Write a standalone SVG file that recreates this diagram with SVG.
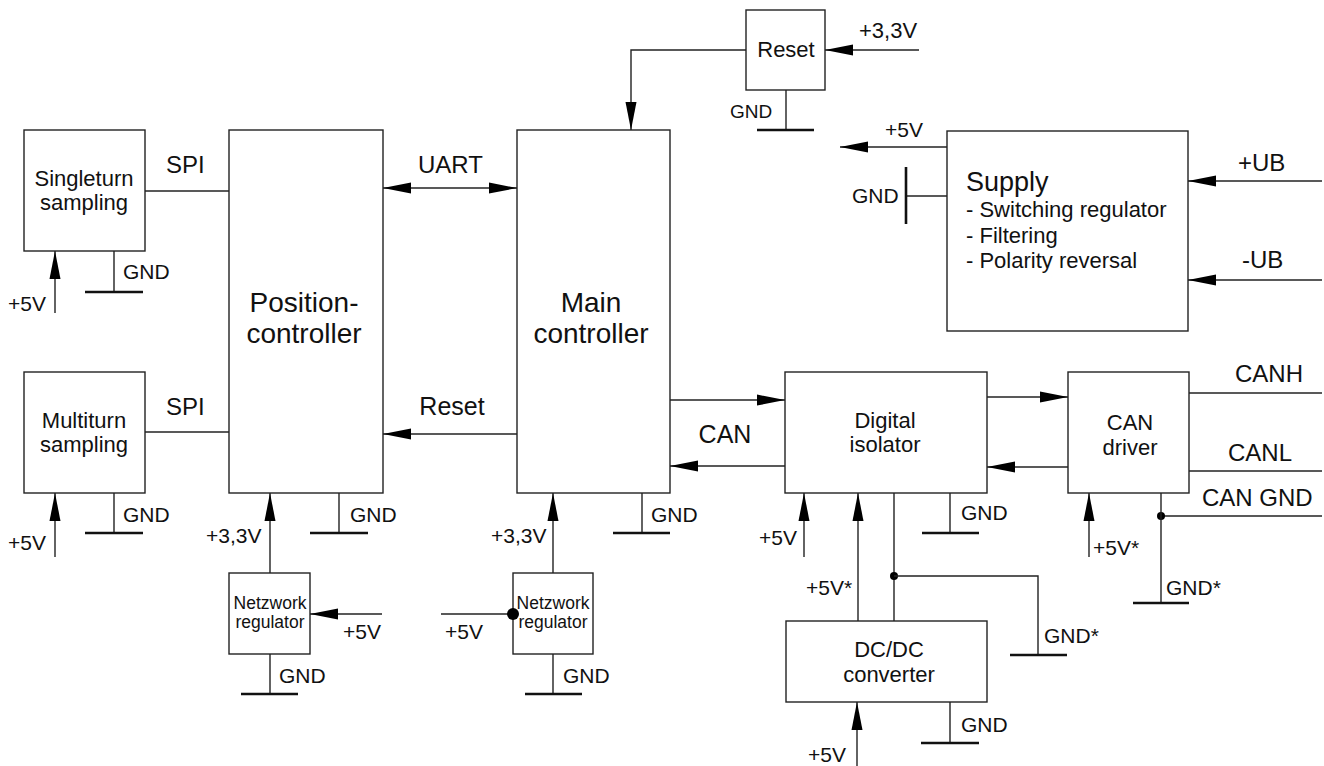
<svg xmlns="http://www.w3.org/2000/svg" width="1324" height="766" viewBox="0 0 1324 766">
<style>
.box{fill:#fff;stroke:#222;stroke-width:1.4}
.ln{fill:none;stroke:#222;stroke-width:1.4}
.gnd{fill:none;stroke:#111;stroke-width:2.6}
.ar{marker-end:url(#a)}
text{font-family:"Liberation Sans",Arial,sans-serif;fill:#111}
.c{text-anchor:middle}
.t21{font-size:21px}
.t22{font-size:22px}
.t24{font-size:24px}
.t28{font-size:28px}
</style>
<defs>
<marker id="a" markerWidth="28" markerHeight="12" refX="28" refY="6" orient="auto-start-reverse" markerUnits="userSpaceOnUse">
<path d="M0,0.5 L28,6 L0,11.5 Z" fill="#000"/>
</marker>
</defs>

<g id="singleturn">
<rect class="box" x="24" y="130" width="121" height="121"/>
<text class="c t22" x="84" y="186">Singleturn</text>
<text class="c t22" x="84" y="210">sampling</text>
</g>
<g id="multiturn">
<rect class="box" x="24" y="372" width="121" height="121"/>
<text class="c t22" x="84" y="428">Multiturn</text>
<text class="c t22" x="84" y="452">sampling</text>
</g>
<g id="position-controller">
<rect class="box" x="229" y="130" width="154" height="363"/>
<text class="c t28" x="304" y="312">Position-</text>
<text class="c t28" x="304" y="343">controller</text>
</g>
<g id="main-controller">
<rect class="box" x="517" y="130" width="153" height="363"/>
<text class="c t28" x="591" y="312">Main</text>
<text class="c t28" x="591" y="343">controller</text>
</g>
<g id="reset">
<rect class="box" x="746" y="10" width="79" height="80"/>
<text class="c t22" x="786" y="57">Reset</text>
</g>
<g id="supply">
<rect class="box" x="947" y="131" width="241" height="200"/>
<text style="font-size:27px" x="966" y="191">Supply</text>
<text class="t22" x="966" y="217">- Switching regulator</text>
<text class="t22" x="966" y="243">- Filtering</text>
<text class="t22" x="966" y="268">- Polarity reversal</text>
</g>
<g id="digital-isolator">
<rect class="box" x="785" y="372" width="202" height="121"/>
<text class="c t22" x="885" y="428">Digital</text>
<text class="c t22" x="885" y="452">isolator</text>
</g>
<g id="can-driver">
<rect class="box" x="1068" y="372" width="121" height="121"/>
<text class="c t22" x="1130" y="430">CAN</text>
<text class="c t22" x="1130" y="455">driver</text>
</g>
<g id="dcdc">
<rect class="box" x="786" y="621" width="201" height="81"/>
<text class="c t22" x="889" y="657">DC/DC</text>
<text class="c t22" x="889" y="682">converter</text>
</g>
<g id="regulator-1">
<rect class="box" x="229" y="573" width="81" height="81"/>
<text class="c" style="font-size:17.5px" x="270" y="609">Netzwork</text>
<text class="c" style="font-size:17.5px" x="270" y="628">regulator</text>
</g>
<g id="regulator-2">
<rect class="box" x="513" y="573" width="80" height="81"/>
<text class="c" style="font-size:17.5px" x="553" y="609">Netzwork</text>
<text class="c" style="font-size:17.5px" x="553" y="628">regulator</text>
</g>

<g id="connectors">
<!-- SPI -->
<line class="ln" x1="145" y1="191" x2="229" y2="191"/>
<text class="t24" x="166" y="173">SPI</text>
<line class="ln" x1="145" y1="432" x2="229" y2="432"/>
<text class="t24" x="166" y="415">SPI</text>
<!-- Singleturn supply -->
<line class="ln ar" x1="55" y1="313" x2="55" y2="251"/>
<text class="t21" x="8" y="311">+5V</text>
<line class="ln" x1="114" y1="251" x2="114" y2="292"/>
<line class="gnd" x1="85" y1="292" x2="143" y2="292"/>
<text class="t21" x="123" y="279">GND</text>
<!-- Multiturn supply -->
<line class="ln ar" x1="55" y1="557" x2="55" y2="493"/>
<text class="t21" x="8" y="550">+5V</text>
<line class="ln" x1="114" y1="493" x2="114" y2="533"/>
<line class="gnd" x1="85" y1="533" x2="143" y2="533"/>
<text class="t21" x="123" y="522">GND</text>
<!-- UART -->
<line class="ln ar" x1="383" y1="188" x2="517" y2="188" style="marker-start:url(#a)"/>
<text class="t24" x="418" y="173">UART</text>
<!-- Reset between controllers -->
<line class="ln ar" x1="517" y1="434" x2="383" y2="434"/>
<text class="c" style="font-size:25px" x="452" y="415">Reset</text>
<!-- Position controller power -->
<line class="ln ar" x1="270" y1="573" x2="270" y2="493"/>
<text class="t21" x="206" y="543">+3,3V</text>
<line class="ln" x1="339" y1="493" x2="339" y2="533"/>
<line class="gnd" x1="310" y1="533" x2="368" y2="533"/>
<text class="t21" x="350" y="522">GND</text>
<!-- Regulator 1 -->
<line class="ln ar" x1="382" y1="614" x2="310" y2="614"/>
<text class="t21" x="343" y="639">+5V</text>
<line class="ln" x1="270" y1="654" x2="270" y2="694"/>
<line class="gnd" x1="241" y1="694" x2="298" y2="694"/>
<text class="t21" x="279" y="683">GND</text>
<!-- Main controller power -->
<line class="ln ar" x1="553" y1="573" x2="553" y2="493"/>
<text class="t21" x="491" y="543">+3,3V</text>
<line class="ln" x1="642" y1="493" x2="642" y2="533"/>
<line class="gnd" x1="613" y1="533" x2="670" y2="533"/>
<text class="t21" x="651" y="522">GND</text>
<!-- Regulator 2 -->
<line class="ln" x1="441" y1="614" x2="513" y2="614"/>
<circle cx="513" cy="614" r="6" fill="#000"/>
<text class="t21" x="445" y="639">+5V</text>
<line class="ln" x1="553" y1="654" x2="553" y2="694"/>
<line class="gnd" x1="525" y1="694" x2="582" y2="694"/>
<text class="t21" x="563" y="683">GND</text>
<!-- Reset box -->
<polyline class="ln ar" points="746,50 631,50 631,130"/>
<line class="ln ar" x1="919" y1="50" x2="825" y2="50"/>
<text class="t22" x="859" y="38">+3,3V</text>
<line class="ln" x1="786" y1="90" x2="786" y2="130"/>
<line class="gnd" x1="757" y1="130" x2="814" y2="130"/>
<text style="font-size:19px" x="730" y="118">GND</text>
<!-- Supply -->
<line class="ln ar" x1="947" y1="147" x2="840" y2="147"/>
<text class="t21" x="885" y="137">+5V</text>
<line class="ln" x1="906" y1="196" x2="947" y2="196"/>
<line class="gnd" x1="906" y1="167" x2="906" y2="224"/>
<text class="t21" x="852" y="203">GND</text>
<line class="ln ar" x1="1322" y1="181" x2="1188" y2="181"/>
<text class="t24" x="1238" y="171">+UB</text>
<line class="ln ar" x1="1322" y1="280" x2="1188" y2="280"/>
<text class="t24" x="1242" y="268">-UB</text>
<!-- CAN -->
<line class="ln ar" x1="670" y1="400" x2="785" y2="400"/>
<line class="ln ar" x1="785" y1="466" x2="670" y2="466"/>
<text class="c" style="font-size:25px" x="725" y="443">CAN</text>
<line class="ln ar" x1="987" y1="397" x2="1068" y2="397"/>
<line class="ln ar" x1="1068" y1="467" x2="987" y2="467"/>
<line class="ln" x1="1189" y1="393" x2="1322" y2="393"/>
<text class="t24" x="1235" y="382">CANH</text>
<line class="ln" x1="1189" y1="471" x2="1322" y2="471"/>
<text class="t24" x="1228" y="461">CANL</text>
<line class="ln" x1="1161" y1="516" x2="1322" y2="516"/>
<circle cx="1161" cy="516" r="4" fill="#000"/>
<text class="t24" x="1202" y="506">CAN GND</text>
<line class="ln" x1="1161" y1="493" x2="1161" y2="603"/>
<line class="gnd" x1="1133" y1="603" x2="1189" y2="603"/>
<text class="t21" x="1166" y="595">GND*</text>
<line class="ln ar" x1="1089" y1="557" x2="1089" y2="493"/>
<text class="t21" x="1093" y="555">+5V*</text>
<!-- Digital isolator power -->
<line class="ln ar" x1="804" y1="557" x2="804" y2="493"/>
<text class="t21" x="759" y="545">+5V</text>
<line class="ln ar" x1="858" y1="621" x2="858" y2="493"/>
<text class="t21" x="806" y="595">+5V*</text>
<line class="ln" x1="894" y1="493" x2="894" y2="621"/>
<circle cx="894" cy="576" r="4" fill="#000"/>
<polyline class="ln" points="894,576 1038,576 1038,655"/>
<line class="gnd" x1="1010" y1="655" x2="1067" y2="655"/>
<text class="t21" x="1044" y="643">GND*</text>
<line class="ln" x1="950" y1="493" x2="950" y2="533"/>
<line class="gnd" x1="922" y1="533" x2="979" y2="533"/>
<text class="t21" x="961" y="520">GND</text>
<!-- DC/DC power -->
<line class="ln ar" x1="857" y1="766" x2="857" y2="702"/>
<text class="t21" x="808" y="762">+5V</text>
<line class="ln" x1="950" y1="702" x2="950" y2="743"/>
<line class="gnd" x1="921" y1="743" x2="979" y2="743"/>
<text class="t21" x="961" y="732">GND</text>
</g>
</svg>
